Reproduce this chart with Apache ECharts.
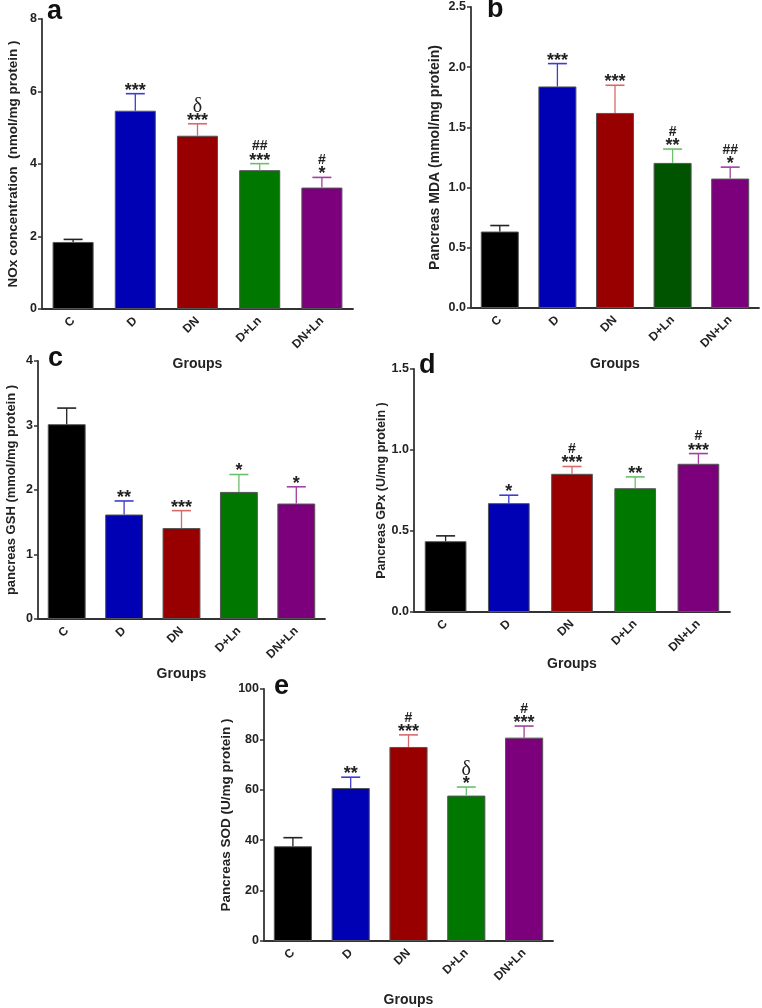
<!DOCTYPE html>
<html>
<head>
<meta charset="utf-8">
<title>Pancreas oxidative stress markers</title>
<script src="https://cdn.jsdelivr.net/npm/echarts@6.0.0/dist/echarts.min.js"></script>
<style>
  html, body { margin: 0; padding: 0; background: #fff; }
  #main { width: 762px; height: 1008px; }
</style>
</head>
<body>
<div id="main"></div>
<script>
var groups = ['C', 'D', 'DN', 'D+Ln', 'DN+Ln'];

// a: NOx
var noxMean = [1.85, 5.47, 4.78, 3.83, 3.35];
var noxErr = [0.07, 0.47, 0.33, 0.18, 0.28];
var noxStars = ['', '***', '***', '***', '*'];
var noxMarks = ['', '', 'δ', '##', '#'];

// b: MDA
var mdaMean = [0.635, 1.84, 1.62, 1.205, 1.075];
var mdaErr = [0.05, 0.19, 0.23, 0.115, 0.095];
var mdaStars = ['', '***', '***', '**', '*'];
var mdaMarks = ['', '', '', '#', '##'];

// c: GSH
var gshMean = [3.02, 1.62, 1.41, 1.97, 1.79];
var gshErr = [0.25, 0.21, 0.27, 0.27, 0.26];
var gshStars = ['', '**', '***', '*', '*'];
var gshMarks = ['', '', '', '', ''];

// d: GPx
var gpxMean = [0.437, 0.672, 0.853, 0.764, 0.915];
var gpxErr = [0.033, 0.049, 0.045, 0.07, 0.063];
var gpxStars = ['', '*', '***', '**', '***'];
var gpxMarks = ['', '', '#', '', '#'];

// e: SOD
var sodMean = [37.6, 60.7, 77.0, 57.7, 80.7];
var sodErr = [3.4, 4.3, 4.8, 3.4, 4.6];
var sodStars = ['', '**', '***', '*', '***'];
var sodMarks = ['', '', '#', 'δ', '#'];

var barColors = ['#000000', '#0000b4', '#980000', '#007800', '#7c007c'];
var barColorsB = ['#000000', '#0000b4', '#980000', '#005400', '#7c007c'];
var errColors = ['#222222', '#3c3cd0', '#d86a6a', '#6cbf6c', '#a040a0'];

var panels = [
  { letter: 'a', mean: noxMean, err: noxErr, stars: noxStars, marks: noxMarks, max: 8, step: 2, dec: 0,
    name: 'NOx concentration  (nmol/mg protein )', colors: barColors,
    grid: { left: 42, top: 19, width: 311, height: 290 }, nameGap: 22, nameSize: 13.5, xGap: 48, letterPos: [47, -2] },
  { letter: 'b', mean: mdaMean, err: mdaErr, stars: mdaStars, marks: mdaMarks, max: 2.5, step: 0.5, dec: 1,
    name: 'Pancreas MDA (mmol/mg protein)', colors: barColorsB,
    grid: { left: 471, top: 7, width: 288, height: 301 }, nameGap: 29, nameSize: 14, xGap: 49, letterPos: [487, -4] },
  { letter: 'c', mean: gshMean, err: gshErr, stars: gshStars, marks: gshMarks, max: 4, step: 1, dec: 0,
    name: 'pancreas GSH (mmol/mg protein )', colors: barColors,
    grid: { left: 38, top: 361, width: 287, height: 258 }, nameGap: 20, nameSize: 13, xGap: 48, letterPos: [48, 345] },
  { letter: 'd', mean: gpxMean, err: gpxErr, stars: gpxStars, marks: gpxMarks, max: 1.5, step: 0.5, dec: 1,
    name: 'Pancreas GPx (U/mg protein )', colors: barColors,
    grid: { left: 414, top: 369, width: 316, height: 243 }, nameGap: 26, nameSize: 12.5, xGap: 45, letterPos: [419, 352] },
  { letter: 'e', mean: sodMean, err: sodErr, stars: sodStars, marks: sodMarks, max: 100, step: 20, dec: 0,
    name: 'Pancreas SOD (U/mg protein )', colors: barColors,
    grid: { left: 264, top: 689, width: 289, height: 258 }, nameGap: 31, nameSize: 13.5, xGap: 52, letterPos: [274, 673] }
];

var font = '"Liberation Sans", Arial, sans-serif';

function errorRenderer(p) {
  return function (params, api) {
    var i = api.value(0);
    var base = api.coord([i, api.value(1)]);
    var top = api.coord([i, api.value(2)]);
    var c = errColors[i];
    var kids = [
      { type: 'line', shape: { x1: base[0], y1: base[1], x2: top[0], y2: top[1] },
        style: { stroke: c, lineWidth: 1.3 } },
      { type: 'line', shape: { x1: top[0] - 9.5, y1: top[1], x2: top[0] + 9.5, y2: top[1] },
        style: { stroke: c, lineWidth: 1.6 } }
    ];
    if (p.stars[i]) {
      kids.push({ type: 'text', x: top[0], y: top[1] - 3,
        style: { text: p.stars[i], font: 'bold 18px ' + font, fill: '#222', align: 'center', verticalAlign: 'middle' } });
    }
    if (p.marks[i]) {
      var isDelta = p.marks[i] === 'δ';
      kids.push({ type: 'text', x: top[0], y: top[1] - 17,
        style: { text: p.marks[i],
          font: isDelta ? '20px "Liberation Serif", serif' : 'bold 14px ' + font,
          fill: '#222', align: 'center', verticalAlign: 'middle' } });
    }
    return { type: 'group', children: kids };
  };
}

var grids = [], xAxes = [], yAxes = [], series = [], graphics = [];

panels.forEach(function (p, k) {
  grids.push(p.grid);
  xAxes.push({
    gridIndex: k, type: 'category', data: groups,
    name: 'Groups', nameLocation: 'middle', nameGap: p.xGap,
    nameTextStyle: { fontFamily: font, fontWeight: 'bold', fontSize: 14, color: '#222' },
    axisLine: { lineStyle: { color: '#333', width: 1.8 } },
    axisTick: { alignWithLabel: true, length: 5, lineStyle: { color: '#333', width: 1.5 } },
    axisLabel: { rotate: 45, margin: 10, fontFamily: font, fontWeight: 'bold', fontSize: 12, color: '#222' }
  });
  yAxes.push({
    gridIndex: k, type: 'value', min: 0, max: p.max, interval: p.step,
    name: p.name, nameLocation: 'middle', nameGap: p.nameGap, nameRotate: 90,
    nameTextStyle: { fontFamily: font, fontWeight: 'bold', fontSize: p.nameSize, color: '#222' },
    splitLine: { show: false },
    axisLine: { show: true, lineStyle: { color: '#333', width: 1.8 } },
    axisTick: { show: true, length: 4, lineStyle: { color: '#333', width: 1.5 } },
    axisLabel: { margin: 5, fontFamily: font, fontWeight: 'bold', fontSize: 12.5, color: '#222',
      formatter: function (v) { return v.toFixed(p.dec); } }
  });
  series.push({
    type: 'bar', xAxisIndex: k, yAxisIndex: k, barWidth: '66%',
    data: p.mean,
    itemStyle: {
      color: function (params) { return p.colors[params.dataIndex]; },
      borderColor: '#555', borderWidth: 1
    },
    animation: false
  });
  series.push({
    type: 'custom', xAxisIndex: k, yAxisIndex: k,
    renderItem: errorRenderer(p),
    data: p.mean.map(function (m, i) { return [i, m, m + p.err[i]]; }),
    z: 5, animation: false
  });
  graphics.push({
    type: 'text', left: p.letterPos[0], top: p.letterPos[1],
    style: { text: p.letter, font: 'bold 27px ' + font, fill: '#111' }
  });
});

var chart = echarts.init(document.getElementById('main'), null, { renderer: 'canvas' });
var option = {
  backgroundColor: '#fff',
  animation: false,
  grid: grids,
  xAxis: xAxes,
  yAxis: yAxes,
  series: series,
  graphic: graphics
};
chart.setOption(option);

window.addEventListener('resize', function () {
  chart.resize();
});
</script>
</body>
</html>
